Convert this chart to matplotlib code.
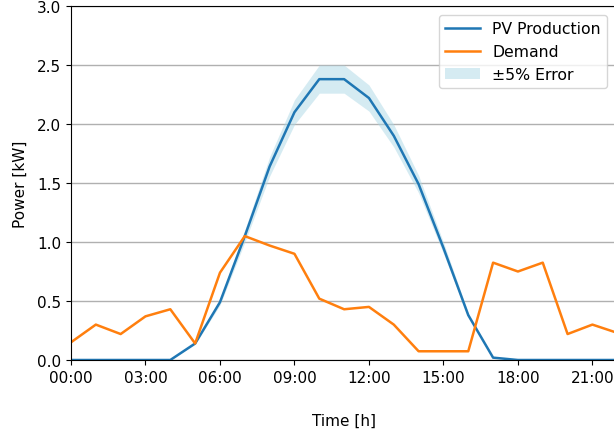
import numpy as np
import matplotlib
matplotlib.use('Agg')
import matplotlib.pyplot as plt

# hourly values
hours = list(range(24))
pv_production = [0, 0, 0, 0, 0, 0.14, 0.49, 1.05, 1.64, 2.10, 2.38, 2.38,
                 2.22, 1.90, 1.49, 0.95, 0.38, 0.02, 0, 0, 0, 0, 0, 0]
demand = [0.15, 0.30, 0.22, 0.37, 0.43, 0.14, 0.74, 1.05, 0.97, 0.90, 0.52, 0.43,
          0.45, 0.30, 0.074, 0.074, 0.074, 0.825, 0.75, 0.825, 0.22, 0.30, 0.23, 0.18]
tick_hours = [0, 3, 6, 9, 12, 15, 18, 21]
tick_labels = [f'{h:02d}:00' for h in tick_hours]
error_frac = 0.05

plt.rcParams['font.size'] = 11

fig = plt.figure(figsize=(6.14, 4.35), dpi=100)
ax = fig.add_axes([71 / 614, 74 / 435, 545 / 614, 354 / 435])

pv = np.array(pv_production)
ax.plot(hours, pv, color='tab:blue', linewidth=1.8, label='PV Production')
ax.plot(hours, demand, color='tab:orange', linewidth=1.8, label='Demand')
ax.fill_between(hours, pv * (1 - error_frac), pv * (1 + error_frac),
                color='lightblue', alpha=0.5, linewidth=0, label='±5% Error')

ax.set_xlim(0, 21.95)
ax.set_ylim(0, 3.0)
ax.set_xticks(tick_hours)
ax.set_xticklabels(tick_labels)
ax.set_yticks(np.arange(0, 3.01, 0.5))
ax.set_xlabel('Time [h]', labelpad=20)
ax.set_ylabel('Power [kW]', labelpad=7)
ax.grid(axis='y', color='#b0b0b0', linewidth=1)
ax.set_axisbelow(True)

ax.legend(loc='upper right', bbox_to_anchor=(544 / 545, 0.997), fontsize=11.3,
          handlelength=2.2)

fig.savefig('out.png', dpi=100)
